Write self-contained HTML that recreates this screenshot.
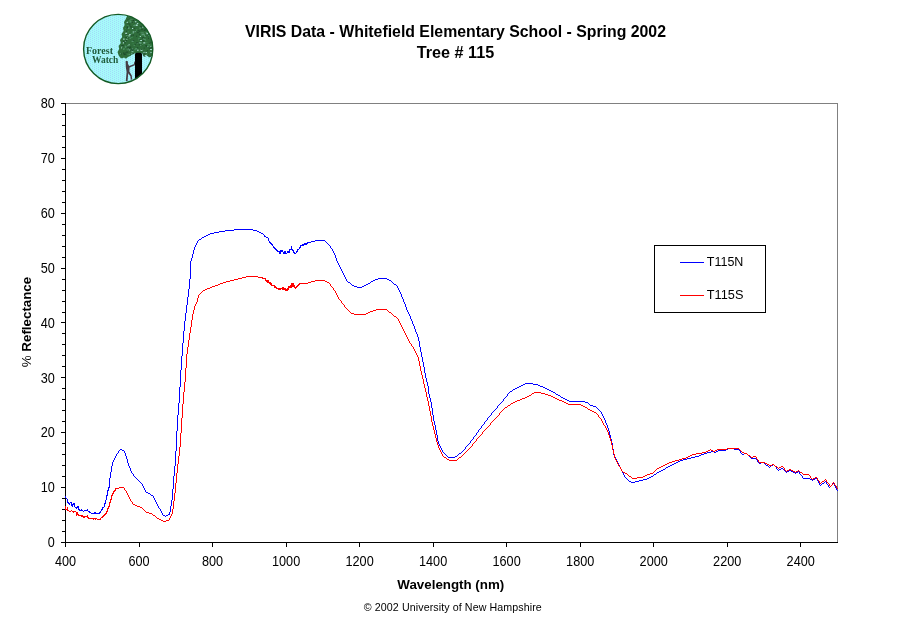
<!DOCTYPE html>
<html><head><meta charset="utf-8"><title>VIRIS Data - Tree # 115</title>
<style>html,body{margin:0;padding:0;background:#fff}body{width:911px;height:623px;overflow:hidden}</style></head>
<body>
<svg width="911" height="623" viewBox="0 0 911 623" style="display:block">
<rect width="911" height="623" fill="#fff"/>
<g>
<clipPath id="lc"><circle cx="118.2" cy="49" r="34.6"/></clipPath>
<pattern id="sky" width="4" height="2" patternUnits="userSpaceOnUse"><rect width="4" height="2" fill="#a6fafa"/><rect x="0" y="0" width="1" height="1" fill="#a2dcf8"/><rect x="2" y="1" width="1" height="1" fill="#a2dcf8"/></pattern>
<circle cx="118.2" cy="49" r="34.6" fill="url(#sky)" shape-rendering="crispEdges"/>
<g clip-path="url(#lc)">
<path d="M128.0 14.0 L125.5 19.5 L124.0 22.0 L124.6 25.0 L123.0 28.0 L123.6 31.0 L121.5 34.0 L122.2 37.0 L120.0 40.0 L120.8 43.0 L118.6 46.0 L119.2 49.0 L117.5 52.0 L118.5 55.0 L120.0 57.6 L122.0 58.6 L124.0 57.4 L126.0 58.8 L128.0 57.0 L130.0 56.0 L132.0 54.5 L135.0 53.3 L142.0 53.3 L144.0 56.0 L147.0 55.0 L149.0 57.6 L152.0 56.0 L157.0 57.5 L157.0 14.0 Z" fill="#2f6d3b"/>
<rect x="129.3" y="23.7" width="1" height="1" fill="#1c4a2c"/><rect x="126.4" y="38.9" width="1" height="0.8" fill="#bdf0ea"/><rect x="140.1" y="40.2" width="2" height="0.8" fill="#bdf0ea"/><rect x="128.8" y="49.0" width="1" height="1" fill="#5f9e7a"/><rect x="121.4" y="45.1" width="1" height="1" fill="#1c4a2c"/><rect x="141.8" y="34.2" width="2" height="1" fill="#5f9e7a"/><rect x="128.5" y="48.2" width="1" height="0.8" fill="#1c4a2c"/><rect x="138.1" y="38.0" width="2" height="1" fill="#3f8a54"/><rect x="135.9" y="24.3" width="2" height="1" fill="#5f9e7a"/><rect x="144.8" y="39.8" width="1.5" height="1" fill="#3f8a54"/><rect x="142.3" y="40.6" width="2" height="0.8" fill="#1c4a2c"/><rect x="147.4" y="53.9" width="1" height="0.8" fill="#1c4a2c"/><rect x="143.6" y="29.8" width="2" height="1" fill="#1c4a2c"/><rect x="143.1" y="51.7" width="2" height="1" fill="#5f9e7a"/><rect x="131.7" y="51.1" width="2" height="1" fill="#bdf0ea"/><rect x="132.5" y="31.6" width="1" height="0.8" fill="#3f8a54"/><rect x="127.9" y="23.5" width="1.5" height="0.8" fill="#1c4a2c"/><rect x="142.2" y="37.6" width="1" height="1" fill="#1c4a2c"/><rect x="149.5" y="47.6" width="2" height="1" fill="#3f8a54"/><rect x="132.0" y="21.9" width="1" height="0.8" fill="#1c4a2c"/><rect x="130.7" y="19.0" width="2" height="0.8" fill="#3f8a54"/><rect x="134.6" y="22.4" width="2" height="1" fill="#1c4a2c"/><rect x="134.9" y="21.3" width="1.5" height="1" fill="#bdf0ea"/><rect x="127.3" y="49.5" width="1" height="0.8" fill="#5f9e7a"/><rect x="123.1" y="38.6" width="1.5" height="1" fill="#bdf0ea"/><rect x="148.2" y="44.5" width="1.5" height="0.8" fill="#5f9e7a"/><rect x="130.4" y="26.5" width="1.5" height="1" fill="#1c4a2c"/><rect x="125.8" y="48.8" width="1" height="0.8" fill="#3f8a54"/><rect x="146.6" y="46.1" width="2" height="1" fill="#5f9e7a"/><rect x="143.6" y="55.6" width="2" height="1" fill="#1c4a2c"/><rect x="124.8" y="41.0" width="1.5" height="1" fill="#5f9e7a"/><rect x="134.5" y="30.8" width="1" height="1" fill="#1c4a2c"/><rect x="140.5" y="49.7" width="2" height="1" fill="#bdf0ea"/><rect x="144.3" y="36.2" width="1.5" height="0.8" fill="#5f9e7a"/><rect x="146.0" y="54.9" width="2" height="1" fill="#5f9e7a"/><rect x="151.1" y="45.5" width="1" height="0.8" fill="#5f9e7a"/><rect x="123.3" y="52.4" width="1" height="1" fill="#1c4a2c"/><rect x="146.9" y="55.3" width="1.5" height="0.8" fill="#1c4a2c"/><rect x="137.2" y="23.0" width="1" height="1" fill="#bdf0ea"/><rect x="125.4" y="37.0" width="1.5" height="1" fill="#1c4a2c"/><rect x="137.1" y="49.7" width="1.5" height="1" fill="#bdf0ea"/><rect x="141.2" y="49.0" width="1" height="1" fill="#1c4a2c"/><rect x="148.5" y="47.5" width="1" height="0.8" fill="#1c4a2c"/><rect x="123.0" y="41.5" width="1" height="1" fill="#bdf0ea"/><rect x="141.9" y="38.2" width="1" height="1" fill="#1c4a2c"/><rect x="129.4" y="55.0" width="1" height="1" fill="#1c4a2c"/><rect x="127.7" y="37.3" width="1" height="1" fill="#1c4a2c"/><rect x="150.3" y="51.9" width="2" height="0.8" fill="#5f9e7a"/><rect x="132.6" y="32.9" width="1" height="1" fill="#5f9e7a"/><rect x="145.4" y="52.1" width="1.5" height="0.8" fill="#bdf0ea"/><rect x="126.9" y="23.2" width="1" height="1" fill="#1c4a2c"/><rect x="141.4" y="26.5" width="2" height="1" fill="#1c4a2c"/><rect x="132.7" y="31.6" width="1.5" height="0.8" fill="#bdf0ea"/><rect x="129.8" y="35.4" width="2" height="1" fill="#1c4a2c"/><rect x="136.1" y="29.2" width="1" height="0.8" fill="#3f8a54"/><rect x="127.3" y="19.5" width="1.5" height="0.8" fill="#1c4a2c"/><rect x="146.7" y="50.3" width="1.5" height="1" fill="#1c4a2c"/><rect x="123.2" y="52.9" width="1.5" height="0.8" fill="#1c4a2c"/><rect x="127.8" y="48.4" width="1" height="1" fill="#5f9e7a"/><rect x="148.2" y="35.2" width="2" height="1" fill="#5f9e7a"/><rect x="127.2" y="24.9" width="1.5" height="1" fill="#3f8a54"/><rect x="144.6" y="29.0" width="1" height="1" fill="#1c4a2c"/><rect x="130.1" y="18.7" width="1" height="0.8" fill="#5f9e7a"/><rect x="143.7" y="38.9" width="2" height="0.8" fill="#5f9e7a"/><rect x="146.7" y="34.4" width="2" height="1" fill="#1c4a2c"/><rect x="128.8" y="26.2" width="1" height="1" fill="#5f9e7a"/><rect x="131.3" y="37.2" width="1" height="1" fill="#3f8a54"/><rect x="128.3" y="35.5" width="2" height="0.8" fill="#bdf0ea"/><rect x="127.2" y="54.5" width="1.5" height="0.8" fill="#3f8a54"/><rect x="129.7" y="21.2" width="1" height="0.8" fill="#5f9e7a"/><rect x="127.2" y="21.4" width="1" height="1" fill="#5f9e7a"/><rect x="126.1" y="40.3" width="1" height="1" fill="#1c4a2c"/><rect x="149.2" y="47.8" width="1.5" height="1" fill="#1c4a2c"/><rect x="143.3" y="42.4" width="2" height="1" fill="#bdf0ea"/><rect x="142.5" y="37.2" width="1" height="1" fill="#3f8a54"/><rect x="142.3" y="26.7" width="1" height="1" fill="#bdf0ea"/><rect x="130.6" y="22.0" width="1" height="1" fill="#1c4a2c"/><rect x="126.6" y="28.0" width="1" height="1" fill="#1c4a2c"/><rect x="150.6" y="52.1" width="1" height="1" fill="#bdf0ea"/><rect x="143.9" y="55.1" width="2" height="0.8" fill="#1c4a2c"/><rect x="134.8" y="44.0" width="1" height="0.8" fill="#1c4a2c"/><rect x="139.0" y="30.6" width="1.5" height="1" fill="#1c4a2c"/><rect x="141.5" y="44.3" width="1.5" height="1" fill="#1c4a2c"/><rect x="136.1" y="35.7" width="1" height="1" fill="#1c4a2c"/><rect x="134.1" y="49.2" width="2" height="1" fill="#3f8a54"/><rect x="131.5" y="52.8" width="1" height="1" fill="#3f8a54"/><rect x="121.2" y="46.4" width="1.5" height="0.8" fill="#5f9e7a"/><rect x="139.1" y="42.0" width="1" height="1" fill="#5f9e7a"/><rect x="130.8" y="36.9" width="2" height="0.8" fill="#3f8a54"/><rect x="123.6" y="54.1" width="2" height="1" fill="#1c4a2c"/><rect x="143.5" y="33.8" width="1" height="1" fill="#5f9e7a"/><rect x="150.4" y="45.1" width="1.5" height="1" fill="#3f8a54"/><rect x="131.0" y="32.9" width="1" height="1" fill="#3f8a54"/><rect x="150.4" y="46.7" width="1.5" height="0.8" fill="#3f8a54"/><rect x="129.0" y="47.4" width="2" height="0.8" fill="#1c4a2c"/><rect x="146.4" y="42.0" width="1" height="1" fill="#3f8a54"/><rect x="120.8" y="53.5" width="1" height="1" fill="#1c4a2c"/><rect x="148.4" y="36.5" width="1" height="0.8" fill="#3f8a54"/><rect x="134.5" y="31.1" width="1.5" height="1" fill="#5f9e7a"/><rect x="141.0" y="29.4" width="2" height="0.8" fill="#1c4a2c"/><rect x="125.3" y="52.4" width="1" height="1" fill="#1c4a2c"/><rect x="149.7" y="55.9" width="1" height="1" fill="#1c4a2c"/><rect x="130.0" y="21.5" width="1.5" height="1" fill="#5f9e7a"/><rect x="127.5" y="46.6" width="1.5" height="0.8" fill="#1c4a2c"/><rect x="142.0" y="38.1" width="1" height="0.8" fill="#1c4a2c"/><rect x="127.5" y="27.4" width="2" height="1" fill="#5f9e7a"/><rect x="151.4" y="50.2" width="1" height="0.8" fill="#3f8a54"/><rect x="131.7" y="53.2" width="2" height="1" fill="#1c4a2c"/><rect x="126.7" y="22.1" width="1" height="1" fill="#bdf0ea"/><rect x="121.0" y="47.5" width="1" height="0.8" fill="#bdf0ea"/><rect x="143.0" y="54.6" width="2" height="1" fill="#1c4a2c"/><rect x="128.5" y="53.9" width="1.5" height="0.8" fill="#5f9e7a"/><rect x="129.1" y="49.9" width="1" height="1" fill="#5f9e7a"/><rect x="126.6" y="54.5" width="1.5" height="0.8" fill="#1c4a2c"/><rect x="141.6" y="34.0" width="2" height="1" fill="#5f9e7a"/><rect x="129.8" y="34.0" width="1" height="0.8" fill="#1c4a2c"/><rect x="145.9" y="46.1" width="1" height="1" fill="#1c4a2c"/><rect x="125.8" y="46.9" width="2" height="1" fill="#5f9e7a"/><rect x="132.6" y="43.3" width="1" height="1" fill="#3f8a54"/><rect x="138.9" y="33.8" width="1" height="1" fill="#1c4a2c"/><rect x="133.7" y="45.1" width="1" height="0.8" fill="#5f9e7a"/><rect x="124.5" y="53.6" width="1" height="1" fill="#1c4a2c"/><rect x="141.3" y="32.4" width="1.5" height="1" fill="#5f9e7a"/><rect x="127.8" y="31.4" width="1" height="1" fill="#3f8a54"/><rect x="130.5" y="49.2" width="2" height="0.8" fill="#1c4a2c"/><rect x="131.0" y="52.9" width="1.5" height="1" fill="#5f9e7a"/><rect x="132.4" y="48.8" width="1" height="1" fill="#1c4a2c"/><rect x="144.2" y="52.1" width="1.5" height="1" fill="#5f9e7a"/><rect x="127.2" y="45.2" width="1.5" height="1" fill="#5f9e7a"/><rect x="150.1" y="42.1" width="1" height="0.8" fill="#3f8a54"/><rect x="121.8" y="45.2" width="2" height="1" fill="#1c4a2c"/><rect x="150.0" y="49.0" width="2" height="0.8" fill="#bdf0ea"/><rect x="128.6" y="44.3" width="1" height="1" fill="#bdf0ea"/><rect x="148.1" y="35.5" width="1" height="1" fill="#1c4a2c"/><rect x="124.9" y="46.6" width="1" height="1" fill="#5f9e7a"/><rect x="129.4" y="55.2" width="1" height="1" fill="#3f8a54"/><rect x="139.9" y="25.9" width="2" height="0.8" fill="#1c4a2c"/><rect x="126.2" y="33.8" width="1" height="1" fill="#1c4a2c"/><rect x="136.8" y="47.4" width="1.5" height="1" fill="#1c4a2c"/><rect x="127.8" y="28.2" width="1.5" height="0.8" fill="#5f9e7a"/><rect x="133.4" y="25.1" width="1.5" height="1" fill="#5f9e7a"/><rect x="126.8" y="27.3" width="1" height="1" fill="#1c4a2c"/><rect x="126.1" y="35.0" width="1.5" height="0.8" fill="#5f9e7a"/><rect x="148.3" y="35.1" width="1" height="0.8" fill="#5f9e7a"/><rect x="140.3" y="45.0" width="1" height="1" fill="#5f9e7a"/><rect x="129.9" y="19.7" width="1" height="1" fill="#3f8a54"/><rect x="143.6" y="52.7" width="1.5" height="1" fill="#1c4a2c"/><rect x="128.9" y="25.7" width="2" height="0.8" fill="#1c4a2c"/><rect x="132.3" y="48.2" width="1" height="1" fill="#1c4a2c"/><rect x="136.7" y="42.8" width="1.5" height="1" fill="#5f9e7a"/><rect x="132.6" y="20.0" width="1.5" height="1" fill="#1c4a2c"/><rect x="132.6" y="50.8" width="1.5" height="1" fill="#3f8a54"/><rect x="124.9" y="45.7" width="1" height="1" fill="#5f9e7a"/><rect x="146.7" y="33.4" width="2" height="0.8" fill="#3f8a54"/><rect x="123.0" y="48.6" width="1.5" height="1" fill="#5f9e7a"/><rect x="135.7" y="23.5" width="1" height="0.8" fill="#5f9e7a"/><rect x="146.2" y="54.7" width="1" height="0.8" fill="#5f9e7a"/><rect x="119.9" y="53.2" width="1" height="1" fill="#5f9e7a"/><rect x="132.2" y="50.2" width="1" height="1" fill="#1c4a2c"/><rect x="125.6" y="33.2" width="2" height="1" fill="#1c4a2c"/><rect x="143.4" y="52.1" width="1" height="1" fill="#bdf0ea"/><rect x="139.0" y="38.9" width="1.5" height="1" fill="#1c4a2c"/><rect x="132.7" y="40.1" width="1.5" height="1" fill="#1c4a2c"/><rect x="135.6" y="24.8" width="2" height="1" fill="#bdf0ea"/><rect x="126.2" y="47.0" width="2" height="0.8" fill="#1c4a2c"/><rect x="146.4" y="33.2" width="1.5" height="1" fill="#bdf0ea"/><rect x="130.8" y="48.5" width="1" height="0.8" fill="#1c4a2c"/><rect x="143.7" y="47.6" width="1" height="1" fill="#1c4a2c"/><rect x="149.3" y="42.8" width="1" height="0.8" fill="#1c4a2c"/><rect x="123.8" y="48.0" width="1" height="1" fill="#3f8a54"/><rect x="139.4" y="27.6" width="1.5" height="1" fill="#5f9e7a"/><rect x="127.2" y="37.2" width="1" height="0.8" fill="#5f9e7a"/><rect x="150.8" y="43.8" width="1" height="1" fill="#3f8a54"/><rect x="140.3" y="31.7" width="1" height="1" fill="#3f8a54"/><rect x="131.8" y="48.3" width="1.5" height="1" fill="#5f9e7a"/><rect x="136.1" y="29.8" width="1.5" height="1" fill="#3f8a54"/><rect x="123.2" y="41.4" width="1.5" height="0.8" fill="#1c4a2c"/><rect x="125.8" y="40.2" width="1" height="1" fill="#1c4a2c"/><rect x="139.8" y="36.0" width="1" height="1" fill="#bdf0ea"/><rect x="132.1" y="28.0" width="1.5" height="1" fill="#bdf0ea"/><rect x="140.6" y="34.9" width="2" height="0.8" fill="#3f8a54"/><rect x="139.4" y="43.0" width="2" height="0.8" fill="#5f9e7a"/><rect x="136.1" y="42.4" width="2" height="1" fill="#1c4a2c"/><rect x="128.5" y="19.8" width="2" height="1" fill="#3f8a54"/><rect x="136.8" y="32.3" width="2" height="0.8" fill="#1c4a2c"/><rect x="144.0" y="35.2" width="1" height="1" fill="#5f9e7a"/><rect x="129.7" y="46.5" width="1.5" height="1" fill="#1c4a2c"/><rect x="141.8" y="44.1" width="1.5" height="1" fill="#3f8a54"/><rect x="127.1" y="27.0" width="1" height="1" fill="#1c4a2c"/><rect x="131.6" y="40.8" width="2" height="1" fill="#5f9e7a"/><rect x="147.4" y="44.5" width="2" height="1" fill="#3f8a54"/><rect x="126.2" y="51.6" width="2" height="1" fill="#1c4a2c"/><rect x="138.5" y="39.5" width="1" height="0.8" fill="#5f9e7a"/><rect x="122.8" y="42.5" width="1" height="1" fill="#bdf0ea"/><rect x="142.9" y="32.6" width="1" height="0.8" fill="#5f9e7a"/><rect x="149.9" y="46.6" width="1.5" height="1" fill="#bdf0ea"/><rect x="129.2" y="34.1" width="1.5" height="1" fill="#bdf0ea"/><rect x="149.9" y="47.2" width="2" height="1" fill="#1c4a2c"/><rect x="132.5" y="34.6" width="1.5" height="1" fill="#1c4a2c"/><rect x="142.7" y="38.4" width="1" height="1" fill="#5f9e7a"/><rect x="144.7" y="55.2" width="2" height="0.8" fill="#bdf0ea"/><rect x="135.2" y="48.3" width="2" height="1" fill="#5f9e7a"/><rect x="130.2" y="49.6" width="1" height="1" fill="#5f9e7a"/><rect x="146.5" y="53.7" width="1" height="0.8" fill="#5f9e7a"/><rect x="150.9" y="47.1" width="1" height="1" fill="#1c4a2c"/><rect x="129.4" y="21.6" width="1" height="1" fill="#3f8a54"/><rect x="125.2" y="28.0" width="1" height="1" fill="#3f8a54"/><rect x="138.8" y="44.2" width="1" height="1" fill="#1c4a2c"/><rect x="138.4" y="37.8" width="2" height="1" fill="#3f8a54"/><rect x="137.4" y="30.3" width="1.5" height="1" fill="#1c4a2c"/><rect x="126.1" y="30.7" width="1" height="1" fill="#1c4a2c"/><rect x="129.4" y="37.8" width="1.5" height="0.8" fill="#5f9e7a"/><rect x="127.1" y="54.3" width="1" height="1" fill="#3f8a54"/><rect x="143.7" y="34.5" width="1" height="1" fill="#5f9e7a"/><rect x="125.2" y="32.8" width="2" height="1" fill="#bdf0ea"/><rect x="142.3" y="37.0" width="2" height="0.8" fill="#1c4a2c"/><rect x="123.0" y="40.9" width="1" height="1" fill="#1c4a2c"/><rect x="142.5" y="40.3" width="1" height="1" fill="#1c4a2c"/><rect x="143.3" y="51.4" width="1" height="1" fill="#1c4a2c"/><rect x="133.1" y="27.9" width="2" height="0.8" fill="#1c4a2c"/><rect x="145.4" y="45.1" width="1.5" height="1" fill="#1c4a2c"/><rect x="148.0" y="37.7" width="1" height="1" fill="#1c4a2c"/><rect x="129.5" y="18.4" width="1" height="0.8" fill="#1c4a2c"/><rect x="126.8" y="26.3" width="1" height="1" fill="#1c4a2c"/><rect x="130.2" y="50.2" width="1" height="1" fill="#1c4a2c"/><rect x="145.7" y="32.1" width="2" height="0.8" fill="#5f9e7a"/><rect x="139.5" y="42.2" width="2" height="1" fill="#5f9e7a"/><rect x="150.0" y="41.9" width="1.5" height="0.8" fill="#1c4a2c"/><rect x="125.9" y="46.2" width="1" height="1" fill="#3f8a54"/><rect x="134.2" y="24.3" width="1" height="1" fill="#3f8a54"/><rect x="124.8" y="42.4" width="1" height="1" fill="#1c4a2c"/>
<path d="M135 79 V54.3 Q135 52.8 136.5 52.8 H140.5 Q142 52.8 142 54.3 V79 Z" fill="#000"/>
<path d="M125.6 61.2 Q126.6 60.4 127.8 61.2 L128 64 L129.2 66 L133.8 64.2 L134.4 61.5 L135.2 61.8 L134.8 65.2 L129.6 67.6 L129.4 71.6 L131.8 75.6 L132.2 79.5 L130.8 79.8 L130.4 76.2 L128.2 73.2 L127.6 81 L125.8 81 L126.6 72 L125.8 67 Z" fill="#453c44"/>
</g>
<circle cx="118.2" cy="49" r="34.6" fill="none" stroke="#145a24" stroke-width="1.4"/>
<text x="86" y="54" font-family="'Liberation Serif',serif" font-weight="bold" font-size="9.5" fill="#1f5a3a" textLength="27" lengthAdjust="spacingAndGlyphs">Forest</text>
<text x="92" y="63.3" font-family="'Liberation Serif',serif" font-weight="bold" font-size="9.5" fill="#1f5a3a" textLength="26.3" lengthAdjust="spacingAndGlyphs">Watch</text>
</g>
<text x="455.5" y="37" font-family="'Liberation Sans',Arial,sans-serif" font-size="16.5" font-weight="bold" text-anchor="middle" textLength="421" lengthAdjust="spacingAndGlyphs" fill="#000">VIRIS Data - Whitefield Elementary School - Spring 2002</text>
<text x="455.5" y="58" font-family="'Liberation Sans',Arial,sans-serif" font-size="16.5" font-weight="bold" text-anchor="middle" textLength="77.5" lengthAdjust="spacingAndGlyphs" fill="#000">Tree # 115</text>
<g shape-rendering="crispEdges" fill="none">
<path d="M65 103.5 H837.5 V542" stroke="#808080" stroke-width="1"/>
<path d="M65.5 103 V542.5 H838" stroke="#000" stroke-width="1"/>
<path d="M61 542.5 H66M62 531.5 H66M62 520.5 H66M62 509.5 H66M62 498.5 H66M61 487.5 H66M62 476.5 H66M62 465.5 H66M62 454.5 H66M62 443.5 H66M61 432.5 H66M62 421.5 H66M62 410.5 H66M62 399.5 H66M62 388.5 H66M61 377.5 H66M62 366.5 H66M62 355.5 H66M62 344.5 H66M62 333.5 H66M61 322.5 H66M62 312.5 H66M62 301.5 H66M62 290.5 H66M62 279.5 H66M61 268.5 H66M62 257.5 H66M62 246.5 H66M62 235.5 H66M62 224.5 H66M61 213.5 H66M62 202.5 H66M62 191.5 H66M62 180.5 H66M62 169.5 H66M61 158.5 H66M62 147.5 H66M62 136.5 H66M62 125.5 H66M62 114.5 H66M61 103.5 H66M65.5 542 V547M139.5 542 V547M212.5 542 V547M286.5 542 V547M359.5 542 V547M433.5 542 V547M506.5 542 V547M580.5 542 V547M653.5 542 V547M727.5 542 V547M800.5 542 V547" stroke="#000" stroke-width="1"/>
</g>
<text x="54.8" y="547.2" font-family="'Liberation Sans',Arial,sans-serif" font-size="14.2" text-anchor="end" textLength="7.0" lengthAdjust="spacingAndGlyphs" fill="#000">0</text>
<text x="54.8" y="492.3" font-family="'Liberation Sans',Arial,sans-serif" font-size="14.2" text-anchor="end" textLength="14.1" lengthAdjust="spacingAndGlyphs" fill="#000">10</text>
<text x="54.8" y="437.4" font-family="'Liberation Sans',Arial,sans-serif" font-size="14.2" text-anchor="end" textLength="14.1" lengthAdjust="spacingAndGlyphs" fill="#000">20</text>
<text x="54.8" y="382.6" font-family="'Liberation Sans',Arial,sans-serif" font-size="14.2" text-anchor="end" textLength="14.1" lengthAdjust="spacingAndGlyphs" fill="#000">30</text>
<text x="54.8" y="327.7" font-family="'Liberation Sans',Arial,sans-serif" font-size="14.2" text-anchor="end" textLength="14.1" lengthAdjust="spacingAndGlyphs" fill="#000">40</text>
<text x="54.8" y="272.8" font-family="'Liberation Sans',Arial,sans-serif" font-size="14.2" text-anchor="end" textLength="14.1" lengthAdjust="spacingAndGlyphs" fill="#000">50</text>
<text x="54.8" y="217.9" font-family="'Liberation Sans',Arial,sans-serif" font-size="14.2" text-anchor="end" textLength="14.1" lengthAdjust="spacingAndGlyphs" fill="#000">60</text>
<text x="54.8" y="163.1" font-family="'Liberation Sans',Arial,sans-serif" font-size="14.2" text-anchor="end" textLength="14.1" lengthAdjust="spacingAndGlyphs" fill="#000">70</text>
<text x="54.8" y="108.2" font-family="'Liberation Sans',Arial,sans-serif" font-size="14.2" text-anchor="end" textLength="14.1" lengthAdjust="spacingAndGlyphs" fill="#000">80</text>
<text x="65.5" y="566.2" font-family="'Liberation Sans',Arial,sans-serif" font-size="14.2" text-anchor="middle" textLength="21.1" lengthAdjust="spacingAndGlyphs" fill="#000">400</text>
<text x="139.0" y="566.2" font-family="'Liberation Sans',Arial,sans-serif" font-size="14.2" text-anchor="middle" textLength="21.1" lengthAdjust="spacingAndGlyphs" fill="#000">600</text>
<text x="212.5" y="566.2" font-family="'Liberation Sans',Arial,sans-serif" font-size="14.2" text-anchor="middle" textLength="21.1" lengthAdjust="spacingAndGlyphs" fill="#000">800</text>
<text x="286.1" y="566.2" font-family="'Liberation Sans',Arial,sans-serif" font-size="14.2" text-anchor="middle" textLength="28.2" lengthAdjust="spacingAndGlyphs" fill="#000">1000</text>
<text x="359.6" y="566.2" font-family="'Liberation Sans',Arial,sans-serif" font-size="14.2" text-anchor="middle" textLength="28.2" lengthAdjust="spacingAndGlyphs" fill="#000">1200</text>
<text x="433.1" y="566.2" font-family="'Liberation Sans',Arial,sans-serif" font-size="14.2" text-anchor="middle" textLength="28.2" lengthAdjust="spacingAndGlyphs" fill="#000">1400</text>
<text x="506.6" y="566.2" font-family="'Liberation Sans',Arial,sans-serif" font-size="14.2" text-anchor="middle" textLength="28.2" lengthAdjust="spacingAndGlyphs" fill="#000">1600</text>
<text x="580.2" y="566.2" font-family="'Liberation Sans',Arial,sans-serif" font-size="14.2" text-anchor="middle" textLength="28.2" lengthAdjust="spacingAndGlyphs" fill="#000">1800</text>
<text x="653.7" y="566.2" font-family="'Liberation Sans',Arial,sans-serif" font-size="14.2" text-anchor="middle" textLength="28.2" lengthAdjust="spacingAndGlyphs" fill="#000">2000</text>
<text x="727.2" y="566.2" font-family="'Liberation Sans',Arial,sans-serif" font-size="14.2" text-anchor="middle" textLength="28.2" lengthAdjust="spacingAndGlyphs" fill="#000">2200</text>
<text x="800.7" y="566.2" font-family="'Liberation Sans',Arial,sans-serif" font-size="14.2" text-anchor="middle" textLength="28.2" lengthAdjust="spacingAndGlyphs" fill="#000">2400</text>
<text x="450.8" y="588.5" font-family="'Liberation Sans',Arial,sans-serif" font-size="13.33" font-weight="bold" text-anchor="middle" fill="#000">Wavelength (nm)</text>
<text x="452.8" y="611" font-family="'Liberation Sans',Arial,sans-serif" font-size="10.67" text-anchor="middle" textLength="178" lengthAdjust="spacing" fill="#000">© 2002 University of New Hampshire</text>
<text transform="translate(31,322) rotate(-90)" font-family="'Liberation Sans',Arial,sans-serif" font-size="13.33" font-weight="bold" text-anchor="middle" fill="#000"><tspan font-weight="normal">%</tspan> Reflectance</text>
<path d="M177 415h1v16h-1zM412 321h1v3h-1zM289 249h1v4h-1zM185 313h1v8h-1zM426 378h1v4h-1zM189 279h1v10h-1zM435 425h1v5h-1zM171 500h1v6h-1zM184 321h1v10h-1zM610 435h1v4h-1zM190 261h1v18h-1zM107 490h1v6h-1zM176 431h1v20h-1zM112 462h1v4h-1zM178 403h1v12h-1zM432 408h1v7h-1zM175 451h1v15h-1zM193 250h1v4h-1zM188 289h1v8h-1zM130 468h1v3h-1zM428 386h1v8h-1zM71 502h1v4h-1zM183 331h1v12h-1zM106 495h1v5h-1zM613 449h1v6h-1zM182 343h1v13h-1zM284 251h1v3h-1zM434 421h1v4h-1zM425 373h1v5h-1zM181 356h1v14h-1zM609 431h1v4h-1zM612 443h1v6h-1zM67 499h1v4h-1zM421 352h1v5h-1zM78 506h1v4h-1zM431 402h1v6h-1zM186 305h1v8h-1zM125 453h1v3h-1zM414 326h1v3h-1zM110 472h1v6h-1zM128 463h1v3h-1zM192 254h1v4h-1zM109 478h1v10h-1zM179 387h1v16h-1zM420 347h1v5h-1zM437 435h1v6h-1zM174 466h1v10h-1zM74 503h1v4h-1zM169 512h1v3h-1zM173 476h1v13h-1zM180 370h1v17h-1zM423 362h1v5h-1zM104 503h1v4h-1zM433 415h1v6h-1zM172 489h1v11h-1zM108 487h1v4h-1zM406 307h1v3h-1zM111 466h1v6h-1zM170 506h1v6h-1zM401 294h1v3h-1zM438 441h1v3h-1zM72 504h1v3h-1zM418 337h1v4h-1zM187 297h1v8h-1zM291 246h1v4h-1zM268 238h1v3h-1zM194 247h1v3h-1zM419 341h1v6h-1zM424 367h1v6h-1zM279 251h1v3h-1zM605 420h1v3h-1zM191 258h1v3h-1zM403 299h1v3h-1zM436 430h1v5h-1zM297 249h1v3h-1zM293 250h1v3h-1zM285 251h1v3h-1zM127 459h1v4h-1zM429 394h1v4h-1zM280 250h1v4h-1zM608 428h1v3h-1zM430 398h1v4h-1zM607 425h1v3h-1zM300 245h1v3h-1zM422 357h1v5h-1zM405 304h1v3h-1zM102 507h1v3h-1zM126 456h1v3h-1zM415 329h1v3h-1zM410 316h1v3h-1zM427 382h1v4h-1zM611 439h1v4h-1zM336 258h1v3h-1zM105 500h1v4h-1zM417 334h1v3h-1zM335 255h1v3h-1zM234 229h19v1h-19zM225 230h9v1h-9zM253 230h4v1h-4zM219 231h6v1h-6zM257 231h2v1h-2zM214 232h5v1h-5zM259 232h2v1h-2zM210 233h4v1h-4zM261 233h2v1h-2zM208 234h2v1h-2zM263 234h1v1h-1zM206 235h2v1h-2zM264 235h1v1h-1zM204 236h2v1h-2zM264 236h2v1h-2zM202 237h2v1h-2zM266 237h2v1h-2zM201 238h1v1h-1zM199 239h2v1h-2zM198 240h1v1h-1zM315 240h10v1h-10zM197 241h1v1h-1zM269 241h1v1h-1zM311 241h4v1h-4zM325 241h1v1h-1zM197 242h1v1h-1zM269 242h2v1h-2zM307 242h4v1h-4zM326 242h1v1h-1zM196 243h1v1h-1zM270 243h2v1h-2zM304 243h4v1h-4zM327 243h1v1h-1zM196 244h1v1h-1zM271 244h2v1h-2zM302 244h5v1h-5zM328 244h1v1h-1zM195 245h1v1h-1zM272 245h1v1h-1zM301 245h3v1h-3zM329 245h1v1h-1zM195 246h1v1h-1zM273 246h1v1h-1zM330 246h1v1h-1zM273 247h2v1h-2zM299 247h1v1h-1zM330 247h1v1h-1zM274 248h2v1h-2zM299 248h1v1h-1zM331 248h1v1h-1zM275 249h2v1h-2zM290 249h1v1h-1zM292 249h1v1h-1zM298 249h1v1h-1zM332 249h1v1h-1zM276 250h2v1h-2zM281 250h2v1h-2zM292 250h1v1h-1zM332 250h1v1h-1zM277 251h2v1h-2zM281 251h2v1h-2zM287 251h2v1h-2zM296 251h1v1h-1zM333 251h1v1h-1zM283 252h1v1h-1zM287 252h2v1h-2zM294 252h1v1h-1zM296 252h1v1h-1zM333 252h1v1h-1zM283 253h1v1h-1zM286 253h1v1h-1zM294 253h2v1h-2zM334 253h1v1h-1zM334 254h1v1h-1zM337 261h1v1h-1zM337 262h1v1h-1zM338 263h1v1h-1zM338 264h1v1h-1zM339 265h1v1h-1zM339 266h1v1h-1zM340 267h1v1h-1zM340 268h1v1h-1zM341 269h1v1h-1zM341 270h1v1h-1zM342 271h1v1h-1zM342 272h1v1h-1zM343 273h1v1h-1zM343 274h1v1h-1zM344 275h1v1h-1zM344 276h1v1h-1zM345 277h1v1h-1zM345 278h1v1h-1zM378 278h9v1h-9zM346 279h1v1h-1zM375 279h3v1h-3zM387 279h2v1h-2zM346 280h1v1h-1zM373 280h2v1h-2zM389 280h2v1h-2zM347 281h1v1h-1zM371 281h2v1h-2zM391 281h1v1h-1zM348 282h2v1h-2zM370 282h1v1h-1zM392 282h1v1h-1zM350 283h1v1h-1zM368 283h2v1h-2zM393 283h1v1h-1zM351 284h1v1h-1zM366 284h2v1h-2zM394 284h2v1h-2zM352 285h2v1h-2zM364 285h2v1h-2zM396 285h1v1h-1zM354 286h3v1h-3zM362 286h2v1h-2zM397 286h1v1h-1zM357 287h5v1h-5zM397 287h1v1h-1zM398 288h1v1h-1zM398 289h1v1h-1zM399 290h1v1h-1zM399 291h1v1h-1zM400 292h1v1h-1zM400 293h1v1h-1zM402 297h1v1h-1zM402 298h1v1h-1zM404 302h1v1h-1zM404 303h1v1h-1zM407 310h1v1h-1zM407 311h1v1h-1zM408 312h1v1h-1zM408 313h1v1h-1zM409 314h1v1h-1zM409 315h1v1h-1zM411 319h1v1h-1zM411 320h1v1h-1zM413 324h1v1h-1zM413 325h1v1h-1zM416 332h1v1h-1zM416 333h1v1h-1zM525 383h8v1h-8zM523 384h2v1h-2zM533 384h5v1h-5zM521 385h2v1h-2zM538 385h2v1h-2zM519 386h2v1h-2zM540 386h3v1h-3zM517 387h2v1h-2zM543 387h2v1h-2zM515 388h2v1h-2zM545 388h2v1h-2zM513 389h2v1h-2zM547 389h2v1h-2zM512 390h1v1h-1zM549 390h2v1h-2zM510 391h2v1h-2zM551 391h2v1h-2zM509 392h1v1h-1zM553 392h2v1h-2zM508 393h1v1h-1zM555 393h1v1h-1zM507 394h1v1h-1zM556 394h2v1h-2zM507 395h1v1h-1zM558 395h2v1h-2zM506 396h1v1h-1zM560 396h1v1h-1zM505 397h1v1h-1zM561 397h2v1h-2zM504 398h1v1h-1zM563 398h2v1h-2zM503 399h1v1h-1zM565 399h2v1h-2zM503 400h1v1h-1zM567 400h2v1h-2zM502 401h1v1h-1zM569 401h16v1h-16zM501 402h1v1h-1zM585 402h3v1h-3zM500 403h1v1h-1zM588 403h1v1h-1zM499 404h1v1h-1zM589 404h1v1h-1zM498 405h1v1h-1zM590 405h3v1h-3zM497 406h1v1h-1zM593 406h3v1h-3zM497 407h1v1h-1zM596 407h1v1h-1zM496 408h1v1h-1zM597 408h1v1h-1zM495 409h1v1h-1zM598 409h1v1h-1zM494 410h1v1h-1zM599 410h1v1h-1zM493 411h1v1h-1zM600 411h1v1h-1zM492 412h1v1h-1zM601 412h1v1h-1zM491 413h1v1h-1zM601 413h1v1h-1zM491 414h1v1h-1zM602 414h1v1h-1zM490 415h1v1h-1zM602 415h1v1h-1zM489 416h1v1h-1zM603 416h1v1h-1zM488 417h1v1h-1zM603 417h1v1h-1zM487 418h1v1h-1zM604 418h1v1h-1zM487 419h1v1h-1zM604 419h1v1h-1zM486 420h1v1h-1zM485 421h1v1h-1zM484 422h1v1h-1zM484 423h1v1h-1zM606 423h1v1h-1zM483 424h1v1h-1zM606 424h1v1h-1zM482 425h1v1h-1zM481 426h1v1h-1zM481 427h1v1h-1zM480 428h1v1h-1zM479 429h1v1h-1zM478 430h1v1h-1zM478 431h1v1h-1zM477 432h1v1h-1zM476 433h1v1h-1zM476 434h1v1h-1zM475 435h1v1h-1zM474 436h1v1h-1zM473 437h1v1h-1zM473 438h1v1h-1zM472 439h1v1h-1zM471 440h1v1h-1zM470 441h1v1h-1zM470 442h1v1h-1zM469 443h1v1h-1zM439 444h1v1h-1zM468 444h1v1h-1zM439 445h1v1h-1zM467 445h1v1h-1zM440 446h1v1h-1zM466 446h1v1h-1zM440 447h1v1h-1zM465 447h1v1h-1zM441 448h1v1h-1zM465 448h1v1h-1zM728 448h6v1h-6zM120 449h2v1h-2zM441 449h1v1h-1zM464 449h1v1h-1zM726 449h2v1h-2zM734 449h5v1h-5zM119 450h1v1h-1zM122 450h2v1h-2zM442 450h1v1h-1zM463 450h1v1h-1zM718 450h8v1h-8zM739 450h1v1h-1zM118 451h1v1h-1zM124 451h1v1h-1zM442 451h1v1h-1zM462 451h1v1h-1zM711 451h3v1h-3zM716 451h2v1h-2zM740 451h1v1h-1zM118 452h1v1h-1zM124 452h1v1h-1zM443 452h1v1h-1zM461 452h1v1h-1zM707 452h4v1h-4zM714 452h2v1h-2zM740 452h1v1h-1zM117 453h1v1h-1zM444 453h1v1h-1zM459 453h2v1h-2zM704 453h3v1h-3zM741 453h1v1h-1zM744 453h3v1h-3zM116 454h1v1h-1zM445 454h1v1h-1zM458 454h1v1h-1zM701 454h3v1h-3zM742 454h2v1h-2zM747 454h1v1h-1zM116 455h1v1h-1zM446 455h1v1h-1zM457 455h1v1h-1zM614 455h1v1h-1zM699 455h2v1h-2zM748 455h1v1h-1zM115 456h1v1h-1zM447 456h1v1h-1zM455 456h2v1h-2zM614 456h1v1h-1zM695 456h4v1h-4zM749 456h1v1h-1zM115 457h1v1h-1zM448 457h7v1h-7zM615 457h1v1h-1zM691 457h4v1h-4zM750 457h1v1h-1zM114 458h1v1h-1zM615 458h1v1h-1zM687 458h4v1h-4zM751 458h5v1h-5zM114 459h1v1h-1zM616 459h1v1h-1zM683 459h4v1h-4zM756 459h1v1h-1zM113 460h1v1h-1zM616 460h1v1h-1zM680 460h3v1h-3zM757 460h1v1h-1zM113 461h1v1h-1zM617 461h1v1h-1zM678 461h2v1h-2zM757 461h1v1h-1zM617 462h1v1h-1zM676 462h2v1h-2zM758 462h1v1h-1zM761 462h3v1h-3zM618 463h1v1h-1zM674 463h2v1h-2zM759 463h2v1h-2zM764 463h1v1h-1zM618 464h1v1h-1zM672 464h2v1h-2zM765 464h1v1h-1zM773 464h1v1h-1zM619 465h1v1h-1zM670 465h2v1h-2zM766 465h2v1h-2zM771 465h2v1h-2zM774 465h1v1h-1zM129 466h1v1h-1zM619 466h1v1h-1zM668 466h2v1h-2zM768 466h1v1h-1zM770 466h1v1h-1zM775 466h1v1h-1zM129 467h1v1h-1zM620 467h1v1h-1zM666 467h2v1h-2zM769 467h1v1h-1zM776 467h1v1h-1zM620 468h1v1h-1zM665 468h1v1h-1zM776 468h1v1h-1zM781 468h2v1h-2zM621 469h1v1h-1zM663 469h2v1h-2zM777 469h1v1h-1zM779 469h2v1h-2zM783 469h1v1h-1zM621 470h1v1h-1zM661 470h2v1h-2zM778 470h1v1h-1zM784 470h1v1h-1zM789 470h2v1h-2zM131 471h1v1h-1zM622 471h1v1h-1zM659 471h2v1h-2zM785 471h1v1h-1zM787 471h2v1h-2zM791 471h2v1h-2zM798 471h1v1h-1zM131 472h1v1h-1zM622 472h1v1h-1zM657 472h2v1h-2zM786 472h1v1h-1zM793 472h2v1h-2zM796 472h2v1h-2zM799 472h1v1h-1zM132 473h1v1h-1zM623 473h1v1h-1zM656 473h1v1h-1zM795 473h1v1h-1zM799 473h1v1h-1zM133 474h1v1h-1zM623 474h1v1h-1zM654 474h2v1h-2zM800 474h1v1h-1zM133 475h1v1h-1zM624 475h1v1h-1zM653 475h1v1h-1zM801 475h1v1h-1zM134 476h1v1h-1zM624 476h1v1h-1zM651 476h2v1h-2zM802 476h1v1h-1zM135 477h1v1h-1zM625 477h1v1h-1zM649 477h2v1h-2zM802 477h1v1h-1zM136 478h1v1h-1zM626 478h1v1h-1zM647 478h2v1h-2zM803 478h7v1h-7zM815 478h2v1h-2zM137 479h1v1h-1zM627 479h1v1h-1zM643 479h4v1h-4zM810 479h2v1h-2zM813 479h2v1h-2zM817 479h1v1h-1zM138 480h1v1h-1zM628 480h1v1h-1zM639 480h4v1h-4zM812 480h1v1h-1zM817 480h1v1h-1zM139 481h1v1h-1zM629 481h2v1h-2zM635 481h4v1h-4zM818 481h1v1h-1zM825 481h1v1h-1zM140 482h1v1h-1zM631 482h4v1h-4zM818 482h1v1h-1zM824 482h1v1h-1zM826 482h1v1h-1zM141 483h1v1h-1zM819 483h1v1h-1zM822 483h2v1h-2zM826 483h1v1h-1zM833 483h1v1h-1zM142 484h1v1h-1zM819 484h1v1h-1zM821 484h1v1h-1zM827 484h1v1h-1zM832 484h1v1h-1zM834 484h1v1h-1zM142 485h1v1h-1zM820 485h1v1h-1zM828 485h1v1h-1zM831 485h1v1h-1zM834 485h1v1h-1zM143 486h1v1h-1zM828 486h1v1h-1zM830 486h1v1h-1zM835 486h1v1h-1zM143 487h1v1h-1zM829 487h1v1h-1zM835 487h1v1h-1zM144 488h1v1h-1zM836 488h1v1h-1zM144 489h1v1h-1zM836 489h1v1h-1zM145 490h1v1h-1zM837 490h1v1h-1zM145 491h1v1h-1zM146 492h2v1h-2zM148 493h2v1h-2zM150 494h1v1h-1zM151 495h2v1h-2zM65 496h1v1h-1zM153 496h1v1h-1zM65 497h1v1h-1zM153 497h1v1h-1zM66 498h1v1h-1zM154 498h1v1h-1zM154 499h1v1h-1zM155 500h1v1h-1zM155 501h1v1h-1zM68 502h1v1h-1zM70 502h1v1h-1zM156 502h1v1h-1zM68 503h2v1h-2zM73 503h1v1h-1zM156 503h1v1h-1zM69 504h1v1h-1zM73 504h1v1h-1zM157 504h1v1h-1zM157 505h1v1h-1zM77 506h1v1h-1zM158 506h1v1h-1zM75 507h3v1h-3zM103 507h1v1h-1zM158 507h1v1h-1zM76 508h1v1h-1zM159 508h1v1h-1zM79 509h1v1h-1zM81 509h1v1h-1zM87 509h1v1h-1zM101 509h1v1h-1zM160 509h1v1h-1zM79 510h4v1h-4zM84 510h4v1h-4zM101 510h1v1h-1zM160 510h1v1h-1zM83 511h1v1h-1zM88 511h2v1h-2zM100 511h1v1h-1zM161 511h1v1h-1zM89 512h2v1h-2zM94 512h2v1h-2zM99 512h2v1h-2zM161 512h1v1h-1zM91 513h9v1h-9zM162 513h1v1h-1zM162 514h1v1h-1zM168 514h1v1h-1zM163 515h2v1h-2zM166 515h2v1h-2zM165 516h1v1h-1z" fill="#0000ff" shape-rendering="crispEdges"/>
<path d="M192 314h1v6h-1zM419 361h1v5h-1zM614 454h1v4h-1zM436 438h1v4h-1zM285 288h1v3h-1zM176 473h1v10h-1zM115 488h1v3h-1zM193 310h1v4h-1zM182 404h1v14h-1zM181 418h1v15h-1zM187 347h1v7h-1zM197 298h1v4h-1zM613 450h1v4h-1zM435 434h1v4h-1zM191 320h1v7h-1zM188 340h1v7h-1zM428 401h1v5h-1zM107 508h1v4h-1zM175 483h1v10h-1zM429 406h1v5h-1zM111 495h1v5h-1zM422 375h1v4h-1zM77 512h1v3h-1zM180 433h1v14h-1zM291 283h1v5h-1zM292 283h1v4h-1zM432 422h1v4h-1zM106 511h1v3h-1zM87 515h1v3h-1zM65 506h1v4h-1zM76 512h1v4h-1zM287 288h1v3h-1zM179 447h1v9h-1zM610 438h1v3h-1zM431 416h1v6h-1zM288 286h1v4h-1zM425 388h1v4h-1zM186 354h1v14h-1zM418 357h1v4h-1zM265 278h1v3h-1zM438 445h1v3h-1zM421 371h1v4h-1zM110 499h1v4h-1zM268 280h1v3h-1zM185 368h1v14h-1zM113 491h1v3h-1zM174 493h1v8h-1zM283 287h1v3h-1zM294 285h1v3h-1zM67 507h1v4h-1zM184 382h1v10h-1zM290 285h1v3h-1zM434 430h1v4h-1zM189 333h1v7h-1zM109 502h1v5h-1zM612 445h1v5h-1zM190 327h1v6h-1zM173 501h1v8h-1zM608 432h1v3h-1zM194 306h1v4h-1zM198 295h1v3h-1zM271 283h1v3h-1zM293 283h1v4h-1zM424 384h1v4h-1zM430 411h1v5h-1zM427 397h1v4h-1zM420 366h1v5h-1zM423 379h1v5h-1zM178 456h1v8h-1zM609 435h1v3h-1zM282 287h1v3h-1zM274 285h1v3h-1zM172 509h1v5h-1zM267 280h1v3h-1zM437 442h1v3h-1zM177 464h1v9h-1zM112 493h1v3h-1zM270 282h1v3h-1zM433 426h1v4h-1zM426 392h1v5h-1zM183 392h1v12h-1zM611 441h1v4h-1zM108 506h1v3h-1zM246 276h12v1h-12zM242 277h4v1h-4zM258 277h5v1h-5zM238 278h4v1h-4zM262 278h3v1h-3zM234 279h4v1h-4zM230 280h4v1h-4zM266 280h1v1h-1zM315 280h10v1h-10zM226 281h4v1h-4zM266 281h1v1h-1zM311 281h4v1h-4zM325 281h2v1h-2zM223 282h3v1h-3zM269 282h1v1h-1zM308 282h3v1h-3zM327 282h2v1h-2zM220 283h3v1h-3zM269 283h1v1h-1zM299 283h9v1h-9zM329 283h1v1h-1zM218 284h2v1h-2zM298 284h2v1h-2zM330 284h1v1h-1zM215 285h3v1h-3zM272 285h2v1h-2zM297 285h2v1h-2zM330 285h1v1h-1zM212 286h3v1h-3zM275 286h1v1h-1zM289 286h1v1h-1zM296 286h2v1h-2zM331 286h1v1h-1zM210 287h2v1h-2zM275 287h2v1h-2zM289 287h1v1h-1zM295 287h2v1h-2zM332 287h1v1h-1zM207 288h3v1h-3zM276 288h6v1h-6zM284 288h1v1h-1zM295 288h1v1h-1zM333 288h1v1h-1zM205 289h2v1h-2zM278 289h3v1h-3zM284 289h1v1h-1zM286 289h1v1h-1zM333 289h1v1h-1zM203 290h2v1h-2zM286 290h1v1h-1zM334 290h1v1h-1zM202 291h1v1h-1zM335 291h1v1h-1zM201 292h1v1h-1zM335 292h1v1h-1zM200 293h1v1h-1zM336 293h1v1h-1zM199 294h1v1h-1zM336 294h1v1h-1zM337 295h1v1h-1zM337 296h1v1h-1zM338 297h1v1h-1zM338 298h1v1h-1zM339 299h1v1h-1zM340 300h1v1h-1zM341 301h1v1h-1zM196 302h1v1h-1zM341 302h1v1h-1zM196 303h1v1h-1zM342 303h1v1h-1zM195 304h1v1h-1zM343 304h1v1h-1zM195 305h1v1h-1zM344 305h1v1h-1zM344 306h1v1h-1zM345 307h1v1h-1zM346 308h1v1h-1zM347 309h1v1h-1zM376 309h11v1h-11zM348 310h1v1h-1zM373 310h3v1h-3zM387 310h1v1h-1zM349 311h1v1h-1zM370 311h3v1h-3zM388 311h1v1h-1zM350 312h1v1h-1zM368 312h2v1h-2zM389 312h2v1h-2zM351 313h3v1h-3zM366 313h2v1h-2zM391 313h1v1h-1zM354 314h12v1h-12zM392 314h1v1h-1zM393 315h1v1h-1zM394 316h2v1h-2zM396 317h1v1h-1zM397 318h1v1h-1zM398 319h1v1h-1zM398 320h1v1h-1zM399 321h1v1h-1zM399 322h1v1h-1zM400 323h1v1h-1zM400 324h1v1h-1zM401 325h1v1h-1zM401 326h1v1h-1zM402 327h1v1h-1zM402 328h1v1h-1zM403 329h1v1h-1zM403 330h1v1h-1zM404 331h1v1h-1zM404 332h1v1h-1zM405 333h1v1h-1zM405 334h1v1h-1zM406 335h1v1h-1zM406 336h1v1h-1zM407 337h1v1h-1zM407 338h1v1h-1zM408 339h1v1h-1zM408 340h1v1h-1zM409 341h1v1h-1zM409 342h1v1h-1zM410 343h1v1h-1zM411 344h1v1h-1zM411 345h1v1h-1zM412 346h1v1h-1zM413 347h1v1h-1zM413 348h1v1h-1zM414 349h1v1h-1zM414 350h1v1h-1zM415 351h1v1h-1zM415 352h1v1h-1zM416 353h1v1h-1zM416 354h1v1h-1zM417 355h1v1h-1zM417 356h1v1h-1zM534 392h7v1h-7zM532 393h2v1h-2zM541 393h4v1h-4zM531 394h1v1h-1zM545 394h3v1h-3zM529 395h2v1h-2zM548 395h3v1h-3zM527 396h2v1h-2zM551 396h2v1h-2zM525 397h2v1h-2zM553 397h2v1h-2zM522 398h3v1h-3zM555 398h2v1h-2zM520 399h2v1h-2zM557 399h2v1h-2zM517 400h3v1h-3zM559 400h3v1h-3zM515 401h2v1h-2zM562 401h2v1h-2zM513 402h2v1h-2zM564 402h2v1h-2zM511 403h2v1h-2zM566 403h2v1h-2zM510 404h1v1h-1zM568 404h13v1h-13zM508 405h2v1h-2zM581 405h2v1h-2zM507 406h1v1h-1zM583 406h2v1h-2zM505 407h2v1h-2zM585 407h2v1h-2zM504 408h1v1h-1zM587 408h1v1h-1zM503 409h1v1h-1zM588 409h2v1h-2zM502 410h1v1h-1zM590 410h2v1h-2zM501 411h1v1h-1zM592 411h2v1h-2zM500 412h1v1h-1zM594 412h2v1h-2zM499 413h1v1h-1zM596 413h1v1h-1zM499 414h1v1h-1zM597 414h1v1h-1zM498 415h1v1h-1zM598 415h1v1h-1zM497 416h1v1h-1zM598 416h1v1h-1zM496 417h1v1h-1zM599 417h1v1h-1zM495 418h1v1h-1zM600 418h1v1h-1zM494 419h1v1h-1zM601 419h1v1h-1zM493 420h1v1h-1zM601 420h1v1h-1zM492 421h1v1h-1zM602 421h1v1h-1zM491 422h1v1h-1zM602 422h1v1h-1zM490 423h1v1h-1zM603 423h1v1h-1zM490 424h1v1h-1zM603 424h1v1h-1zM489 425h1v1h-1zM604 425h1v1h-1zM488 426h1v1h-1zM605 426h1v1h-1zM487 427h1v1h-1zM605 427h1v1h-1zM486 428h1v1h-1zM606 428h1v1h-1zM485 429h1v1h-1zM606 429h1v1h-1zM484 430h1v1h-1zM607 430h1v1h-1zM483 431h1v1h-1zM607 431h1v1h-1zM482 432h1v1h-1zM482 433h1v1h-1zM481 434h1v1h-1zM480 435h1v1h-1zM479 436h1v1h-1zM478 437h1v1h-1zM477 438h1v1h-1zM476 439h1v1h-1zM476 440h1v1h-1zM475 441h1v1h-1zM474 442h1v1h-1zM473 443h1v1h-1zM472 444h1v1h-1zM472 445h1v1h-1zM471 446h1v1h-1zM470 447h1v1h-1zM439 448h1v1h-1zM469 448h1v1h-1zM727 448h12v1h-12zM439 449h1v1h-1zM468 449h1v1h-1zM710 449h1v1h-1zM717 449h10v1h-10zM739 449h1v1h-1zM440 450h1v1h-1zM467 450h1v1h-1zM708 450h2v1h-2zM711 450h2v1h-2zM715 450h2v1h-2zM740 450h1v1h-1zM440 451h1v1h-1zM466 451h1v1h-1zM706 451h2v1h-2zM713 451h2v1h-2zM741 451h1v1h-1zM441 452h1v1h-1zM465 452h1v1h-1zM702 452h4v1h-4zM742 452h2v1h-2zM441 453h1v1h-1zM464 453h1v1h-1zM696 453h6v1h-6zM744 453h3v1h-3zM442 454h1v1h-1zM463 454h1v1h-1zM692 454h4v1h-4zM747 454h1v1h-1zM442 455h1v1h-1zM462 455h1v1h-1zM690 455h2v1h-2zM748 455h2v1h-2zM443 456h1v1h-1zM461 456h1v1h-1zM688 456h2v1h-2zM750 456h1v1h-1zM753 456h3v1h-3zM444 457h2v1h-2zM459 457h2v1h-2zM686 457h2v1h-2zM751 457h2v1h-2zM756 457h1v1h-1zM446 458h1v1h-1zM458 458h1v1h-1zM615 458h1v1h-1zM682 458h4v1h-4zM756 458h1v1h-1zM447 459h2v1h-2zM457 459h1v1h-1zM615 459h1v1h-1zM679 459h3v1h-3zM757 459h1v1h-1zM449 460h8v1h-8zM616 460h1v1h-1zM675 460h4v1h-4zM758 460h1v1h-1zM616 461h1v1h-1zM672 461h3v1h-3zM758 461h1v1h-1zM617 462h1v1h-1zM669 462h3v1h-3zM759 462h6v1h-6zM617 463h1v1h-1zM667 463h2v1h-2zM765 463h2v1h-2zM618 464h1v1h-1zM665 464h2v1h-2zM767 464h2v1h-2zM772 464h2v1h-2zM618 465h1v1h-1zM663 465h2v1h-2zM769 465h3v1h-3zM774 465h1v1h-1zM619 466h1v1h-1zM661 466h2v1h-2zM775 466h2v1h-2zM781 466h2v1h-2zM620 467h1v1h-1zM659 467h2v1h-2zM777 467h1v1h-1zM779 467h2v1h-2zM783 467h1v1h-1zM620 468h1v1h-1zM657 468h2v1h-2zM778 468h1v1h-1zM784 468h1v1h-1zM621 469h1v1h-1zM656 469h1v1h-1zM784 469h1v1h-1zM789 469h2v1h-2zM621 470h1v1h-1zM655 470h1v1h-1zM785 470h1v1h-1zM787 470h2v1h-2zM791 470h2v1h-2zM798 470h1v1h-1zM622 471h1v1h-1zM654 471h1v1h-1zM786 471h1v1h-1zM793 471h2v1h-2zM796 471h2v1h-2zM799 471h1v1h-1zM623 472h2v1h-2zM653 472h1v1h-1zM795 472h1v1h-1zM800 472h2v1h-2zM625 473h2v1h-2zM650 473h3v1h-3zM802 473h1v1h-1zM627 474h1v1h-1zM647 474h3v1h-3zM803 474h6v1h-6zM628 475h1v1h-1zM645 475h2v1h-2zM809 475h1v1h-1zM629 476h2v1h-2zM643 476h2v1h-2zM810 476h1v1h-1zM631 477h1v1h-1zM637 477h6v1h-6zM810 477h1v1h-1zM815 477h2v1h-2zM632 478h5v1h-5zM811 478h1v1h-1zM813 478h2v1h-2zM817 478h1v1h-1zM812 479h1v1h-1zM817 479h1v1h-1zM825 479h1v1h-1zM818 480h1v1h-1zM824 480h1v1h-1zM826 480h1v1h-1zM819 481h1v1h-1zM822 481h2v1h-2zM826 481h1v1h-1zM819 482h1v1h-1zM821 482h1v1h-1zM827 482h1v1h-1zM833 482h1v1h-1zM820 483h1v1h-1zM828 483h1v1h-1zM832 483h1v1h-1zM834 483h1v1h-1zM829 484h1v1h-1zM832 484h1v1h-1zM834 484h1v1h-1zM829 485h1v1h-1zM831 485h1v1h-1zM835 485h1v1h-1zM830 486h1v1h-1zM836 486h1v1h-1zM119 487h5v1h-5zM836 487h1v1h-1zM116 488h3v1h-3zM124 488h1v1h-1zM837 488h1v1h-1zM124 489h1v1h-1zM114 490h1v1h-1zM125 490h1v1h-1zM114 491h1v1h-1zM126 491h1v1h-1zM126 492h1v1h-1zM127 493h1v1h-1zM127 494h1v1h-1zM128 495h1v1h-1zM128 496h1v1h-1zM129 497h1v1h-1zM129 498h1v1h-1zM130 499h1v1h-1zM130 500h1v1h-1zM131 501h1v1h-1zM132 502h1v1h-1zM132 503h1v1h-1zM133 504h2v1h-2zM135 505h2v1h-2zM137 506h3v1h-3zM140 507h2v1h-2zM142 508h1v1h-1zM66 509h1v1h-1zM143 509h1v1h-1zM68 510h1v1h-1zM71 510h1v1h-1zM144 510h1v1h-1zM69 511h2v1h-2zM72 511h4v1h-4zM145 511h1v1h-1zM73 512h1v1h-1zM146 512h3v1h-3zM105 513h1v1h-1zM149 513h3v1h-3zM78 514h1v1h-1zM104 514h2v1h-2zM152 514h1v1h-1zM171 514h1v1h-1zM78 515h5v1h-5zM103 515h2v1h-2zM153 515h2v1h-2zM171 515h1v1h-1zM81 516h6v1h-6zM102 516h2v1h-2zM155 516h1v1h-1zM170 516h1v1h-1zM83 517h2v1h-2zM88 517h1v1h-1zM101 517h2v1h-2zM156 517h1v1h-1zM170 517h1v1h-1zM88 518h9v1h-9zM100 518h1v1h-1zM157 518h2v1h-2zM169 518h1v1h-1zM93 519h1v1h-1zM95 519h1v1h-1zM97 519h4v1h-4zM159 519h2v1h-2zM169 519h1v1h-1zM161 520h2v1h-2zM166 520h3v1h-3zM163 521h3v1h-3z" fill="#ff0000" shape-rendering="crispEdges"/>
<g shape-rendering="crispEdges"><rect x="654.5" y="245.5" width="111" height="67" fill="#fff" stroke="#000"/>
<path d="M680 262.5 H704" stroke="#0000ff"/><path d="M680 295.5 H704" stroke="#ff0000"/></g>
<text x="706.8" y="265.9" font-family="'Liberation Sans',Arial,sans-serif" font-size="13.6" textLength="36.6" lengthAdjust="spacingAndGlyphs" fill="#000">T115N</text>
<text x="706.8" y="298.8" font-family="'Liberation Sans',Arial,sans-serif" font-size="13.6" textLength="36.6" lengthAdjust="spacingAndGlyphs" fill="#000">T115S</text>
</svg>
</body></html>
